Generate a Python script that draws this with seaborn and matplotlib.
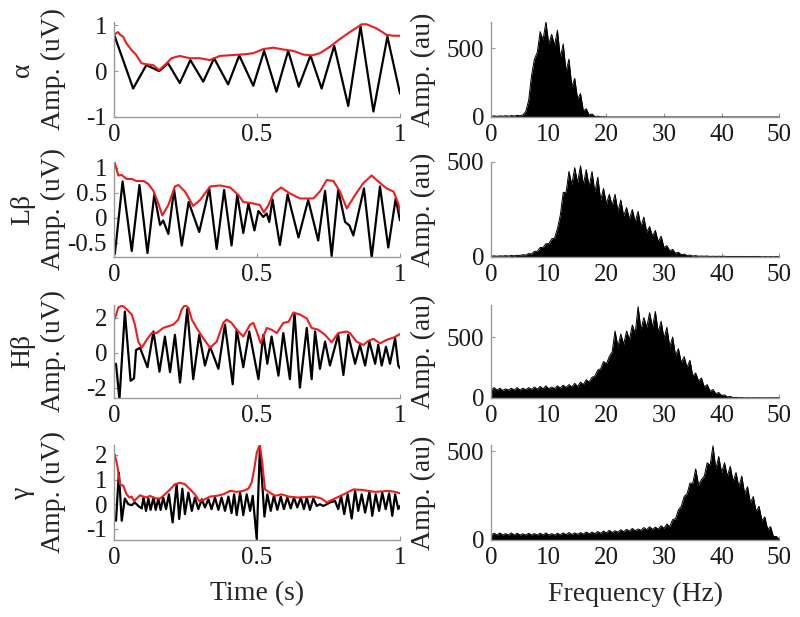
import numpy as np
import pandas as pd
import matplotlib
matplotlib.use("Agg")
import matplotlib.pyplot as plt
import seaborn as sns

# ---------------- time traces (s, uV) ----------------
alpha_t = [0.0, 0.067, 0.113, 0.158, 0.189, 0.230, 0.267, 0.312, 0.350, 0.399, 0.438, 0.487,
           0.525, 0.568, 0.609, 0.646, 0.687, 0.726, 0.770, 0.819, 0.862, 0.907, 0.956, 1.0]
alpha_sig = [0.80, -0.38, 0.13, 0.0, 0.17, -0.26, 0.24, -0.23, 0.28, -0.29, 0.34, -0.32,
             0.44, -0.45, 0.44, -0.34, 0.34, -0.38, 0.55, -0.76, 0.97, -0.88, 0.75, -0.49]
alpha_env_t = [0.002, 0.014, 0.022, 0.032, 0.043, 0.061, 0.078, 0.096, 0.113, 0.137, 0.158, 0.177,
               0.201, 0.230, 0.265, 0.300, 0.335, 0.370, 0.417, 0.463, 0.487, 0.522, 0.557, 0.592,
               0.627, 0.662, 0.691, 0.720, 0.755, 0.790, 0.825, 0.866, 0.883, 0.918, 0.953, 0.977, 1.0]
alpha_env = [0.80, 0.85, 0.79, 0.75, 0.61, 0.46, 0.35, 0.17, 0.15, 0.13, 0.02, 0.13,
             0.28, 0.33, 0.28, 0.28, 0.24, 0.33, 0.35, 0.37, 0.39, 0.48, 0.51, 0.47,
             0.44, 0.36, 0.34, 0.39, 0.53, 0.70, 0.85, 1.02, 1.02, 0.93, 0.79, 0.77, 0.77]

lbeta_t = [0.003, 0.030, 0.062, 0.089, 0.117, 0.141, 0.161, 0.172, 0.190, 0.210, 0.237, 0.261,
           0.298, 0.333, 0.359, 0.385, 0.411, 0.431, 0.452, 0.470, 0.491, 0.505, 0.522, 0.534,
           0.543, 0.554, 0.580, 0.607, 0.645, 0.679, 0.714, 0.738, 0.761, 0.784, 0.808, 0.823,
           0.837, 0.874, 0.901, 0.930, 0.959, 0.985, 1.0]
lbeta_sig = [-0.72, 0.73, -0.66, 0.66, -0.70, 0.47, -0.14, -0.05, -0.32, 0.57, -0.55, 0.32,
             -0.28, 0.59, -0.62, 0.56, -0.55, 0.46, -0.30, 0.29, -0.25, 0.14, 0.02, 0.09,
             -0.08, 0.37, -0.54, 0.47, -0.39, 0.36, -0.45, 0.54, -0.76, 0.56, -0.08, -0.15,
             -0.35, 0.59, -0.79, 0.63, -0.59, 0.39, -0.05]
lbeta_env_t = [0.003, 0.015, 0.027, 0.044, 0.062, 0.079, 0.103, 0.120, 0.138, 0.155, 0.169, 0.190,
               0.213, 0.225, 0.248, 0.277, 0.301, 0.336, 0.371, 0.406, 0.435, 0.452, 0.487, 0.510,
               0.524, 0.540, 0.557, 0.584, 0.615, 0.650, 0.697, 0.720, 0.744, 0.767, 0.790, 0.814,
               0.843, 0.872, 0.901, 0.924, 0.953, 0.977, 0.994, 1.0]
lbeta_env = [1.10, 0.85, 0.86, 0.78, 0.78, 0.74, 0.74, 0.68, 0.54, 0.29, 0.05, 0.26,
             0.63, 0.66, 0.53, 0.24, 0.36, 0.63, 0.65, 0.61, 0.46, 0.32, 0.29, 0.26,
             0.11, 0.26, 0.49, 0.61, 0.49, 0.39, 0.39, 0.53, 0.76, 0.74, 0.53, 0.19,
             0.46, 0.70, 0.85, 0.73, 0.59, 0.53, 0.29, 0.12]

hbeta_t = [0.007, 0.019, 0.038, 0.058, 0.070, 0.077, 0.091, 0.117, 0.138, 0.159, 0.178, 0.196,
           0.213, 0.231, 0.256, 0.277, 0.298, 0.318, 0.336, 0.365, 0.388, 0.415, 0.429, 0.452,
           0.473, 0.505, 0.522, 0.536, 0.551, 0.575, 0.592, 0.615, 0.631, 0.650, 0.674, 0.691,
           0.703, 0.720, 0.738, 0.755, 0.784, 0.802, 0.819, 0.843, 0.860, 0.878, 0.893, 0.913,
           0.924, 0.936, 0.951, 0.965, 0.983, 0.994, 1.0]
hbeta_sig = [-0.62, -2.66, 2.35, -1.59, -1.45, 0.16, 0.29, -0.82, 1.22, -1.07, 0.93, -1.10,
             1.03, -1.69, 2.49, -1.50, 1.03, -0.72, 0.35, -0.91, 1.61, -1.79, 1.32, -0.82,
             1.22, -1.50, 1.03, -0.62, 0.93, -1.30, 1.13, -1.50, 2.29, -1.98, 1.42, -1.50,
             1.22, -0.91, 0.64, -0.72, 1.03, -1.26, 1.03, -0.62, 0.45, -0.72, 0.64, -0.62,
             0.45, -0.72, 0.35, -0.62, 0.83, -0.72, -0.87]
hbeta_env_t = [0.003, 0.015, 0.027, 0.038, 0.050, 0.062, 0.073, 0.085, 0.097, 0.114, 0.132, 0.149,
               0.172, 0.207, 0.225, 0.237, 0.248, 0.260, 0.272, 0.289, 0.312, 0.336, 0.359, 0.382,
               0.394, 0.411, 0.429, 0.452, 0.476, 0.487, 0.499, 0.513, 0.534, 0.551, 0.569, 0.592,
               0.610, 0.627, 0.650, 0.674, 0.691, 0.714, 0.738, 0.761, 0.784, 0.814, 0.825, 0.848,
               0.872, 0.889, 0.907, 0.930, 0.953, 0.977, 1.0]
hbeta_env = [1.96, 2.58, 2.70, 2.58, 2.39, 2.19, 1.61, 0.64, 0.29, 0.74, 1.13, 1.13,
             1.42, 1.61, 1.90, 2.49, 2.72, 2.58, 1.90, 1.42, 0.83, 0.29, 0.64, 1.71,
             1.90, 1.71, 1.32, 0.93, 1.61, 1.71, 1.22, 0.54, 1.42, 1.32, 1.13, 1.71,
             1.77, 2.29, 2.19, 1.96, 1.42, 1.32, 1.03, 0.60, 1.13, 1.22, 1.13, 0.64,
             0.45, 0.68, 0.80, 0.54, 0.74, 0.87, 1.07]

gamma_t = [0.007, 0.017, 0.027, 0.038, 0.050, 0.062, 0.073, 0.085, 0.097, 0.103,
           0.112, 0.120, 0.128, 0.138, 0.146, 0.155, 0.163, 0.172, 0.182, 0.192,
           0.205, 0.219, 0.228, 0.239, 0.248, 0.260, 0.272, 0.283, 0.295, 0.307,
           0.318, 0.330, 0.341, 0.353, 0.365, 0.376, 0.388, 0.400, 0.411, 0.420,
           0.429, 0.441, 0.452, 0.464, 0.476, 0.485, 0.499, 0.510, 0.526, 0.536,
           0.548, 0.559, 0.571, 0.583, 0.594, 0.606, 0.618, 0.629, 0.641, 0.653,
           0.664, 0.674, 0.685, 0.697, 0.709, 0.720, 0.732, 0.744, 0.755, 0.773,
           0.784, 0.794, 0.805, 0.817, 0.831, 0.843, 0.854, 0.866, 0.878, 0.893,
           0.903, 0.915, 0.927, 0.938, 0.950, 0.962, 0.973, 0.983, 0.994, 1.0]
gamma_sig = [-0.67, 1.28, -0.67, 0.23, 0.00, -0.04, 0.07, -0.07, -0.17, 0.27,
             -0.27, 0.23, -0.23, 0.27, -0.23, 0.23, -0.23, 0.27, -0.20, 0.40,
             -0.74, 0.81, -0.60, 0.63, -0.40, 0.47, -0.27, 0.27, -0.20, 0.20,
             -0.13, 0.20, -0.20, 0.27, -0.23, 0.27, -0.27, 0.31, -0.36, 0.40,
             -0.44, 0.47, -0.44, 0.40, -0.27, 0.34, -1.41, 2.28, -0.50, 0.40,
             -0.27, 0.34, -0.23, 0.31, -0.20, 0.27, -0.17, 0.27, -0.13, 0.27,
             -0.20, 0.27, -0.23, 0.23, -0.07, 0.00, -0.07, 0.00, 0.07, 0.13,
             -0.20, 0.34, -0.40, 0.40, -0.58, 0.54, -0.27, 0.40, -0.34, 0.50,
             -0.47, 0.40, -0.27, 0.47, -0.20, 0.44, -0.47, 0.40, -0.20, -0.07]
gamma_env_t = [0.003, 0.012, 0.021, 0.033, 0.044, 0.054, 0.062, 0.070, 0.079, 0.091,
               0.103, 0.114, 0.126, 0.138, 0.149, 0.161, 0.178, 0.196, 0.213, 0.231,
               0.248, 0.266, 0.283, 0.298, 0.312, 0.336, 0.359, 0.382, 0.406, 0.429,
               0.452, 0.470, 0.481, 0.490, 0.499, 0.510, 0.517, 0.528, 0.545, 0.563,
               0.586, 0.610, 0.645, 0.697, 0.726, 0.744, 0.761, 0.796, 0.837, 0.866,
               0.913, 0.960, 0.983, 1.0]
gamma_env = [2.01, 1.54, 0.81, 0.74, 0.40, 0.27, 0.31, 0.13, 0.23, 0.36,
             0.31, 0.27, 0.34, 0.27, 0.23, 0.23, 0.40, 0.60, 0.81, 0.87,
             0.81, 0.60, 0.40, 0.13, 0.17, 0.31, 0.34, 0.40, 0.54, 0.50,
             0.54, 0.63, 0.87, 1.41, 2.08, 2.42, 1.81, 0.60, 0.47, 0.34,
             0.40, 0.31, 0.27, 0.31, 0.23, 0.07, 0.17, 0.36, 0.60, 0.58,
             0.50, 0.54, 0.50, 0.44]

# ---------------- spectra (au): dense level at whole Hz, spike tops at half Hz ----------------
freq_body = np.arange(0, 51)
freq_peak = np.arange(0.5, 50, 1.0)

alpha_body = [5, 5, 6, 6, 7, 9, 40, 300, 470, 560, 530, 520, 430, 330, 220, 130, 45, 15, 4, 1,
              0, 0, 0, 0, 0, 0, 0, 0, 0, 0, 0, 0, 0, 0, 0, 0, 0, 0, 0, 0,
              0, 0, 0, 0, 0, 0, 0, 0, 0, 0, 0]
alpha_peak = [8, 8, 9, 10, 12, 15, 120, 420, 620, 690, 600, 630, 530, 420, 280, 170, 60, 22, 6, 2,
              0, 0, 0, 0, 0, 0, 0, 0, 0, 0, 0, 0, 0, 0, 0, 0, 0, 0, 0, 0,
              0, 0, 0, 0, 0, 0, 0, 0, 0, 0]

lbeta_body = [4, 4, 5, 5, 6, 8, 10, 16, 30, 50, 70, 100, 220, 340, 380, 390, 380, 370, 340, 300,
              280, 270, 240, 215, 200, 185, 160, 130, 110, 80, 50, 32, 20, 12, 8, 5, 4, 4, 3, 3,
              3, 2, 2, 2, 2, 2, 2, 1, 1, 1, 1]
lbeta_peak = [6, 6, 7, 8, 9, 12, 18, 30, 50, 70, 95, 150, 340, 450, 470, 480, 460, 450, 420, 360,
              330, 330, 300, 260, 250, 240, 210, 160, 140, 110, 60, 40, 25, 15, 10, 7, 5, 5, 4, 4,
              4, 3, 3, 3, 3, 3, 3, 2, 2, 2]

hbeta_body = [65, 65, 62, 65, 65, 66, 68, 70, 72, 75, 75, 78, 82, 86, 90, 95, 110, 130, 180, 240,
              280, 380, 420, 440, 480, 530, 560, 580, 580, 540, 490, 420, 350, 290, 250, 180, 140, 90, 55, 35,
              20, 9, 4, 2, 1, 1, 1, 1, 1, 1, 1]
hbeta_peak = [85, 80, 75, 80, 85, 80, 85, 90, 95, 100, 90, 100, 105, 110, 120, 130, 150, 170, 230, 300,
              340, 550, 525, 550, 600, 750, 660, 700, 710, 630, 580, 500, 405, 340, 310, 205, 165, 110, 70, 45,
              25, 12, 5, 3, 2, 2, 2, 2, 2, 2]

gamma_body = [28, 28, 28, 28, 28, 28, 28, 28, 28, 28, 28, 28, 29, 30, 31, 32, 33, 35, 36, 38,
              40, 42, 44, 47, 50, 52, 55, 58, 60, 62, 66, 75, 120, 190, 260, 320, 310, 360, 420, 400,
              380, 360, 330, 300, 260, 210, 160, 110, 60, 20, 5]
gamma_peak = [38, 40, 36, 40, 38, 35, 38, 36, 38, 40, 36, 38, 40, 42, 40, 42, 45, 45, 48, 50,
              55, 52, 58, 60, 65, 62, 70, 75, 72, 80, 90, 115, 170, 245, 320, 400, 340, 435, 530, 470,
              435, 415, 380, 360, 300, 245, 190, 130, 75, 20]

band_names = ["α", "Lβ", "Hβ", "γ"]
traces = [(alpha_t, alpha_sig, alpha_env_t, alpha_env),
          (lbeta_t, lbeta_sig, lbeta_env_t, lbeta_env),
          (hbeta_t, hbeta_sig, hbeta_env_t, hbeta_env),
          (gamma_t, gamma_sig, gamma_env_t, gamma_env)]
spectra = [(alpha_body, alpha_peak), (lbeta_body, lbeta_peak),
           (hbeta_body, hbeta_peak), (gamma_body, gamma_peak)]

time_ylims = [(-1.0, 1.07), (-0.78, 1.12), (-2.57, 2.74), (-1.45, 2.4)]
time_yticks = [[-1, 0, 1], [-0.5, 0, 0.5, 1], [-2, 0, 2], [-1, 0, 1, 2]]
spec_ylims = [690, 500, 765, 535]

TICK_FS = 18
LABEL_FS = 20
AXIS_GREY = "#9a9a9a"

sns.set_theme(style="ticks")
plt.rcParams["font.family"] = ["Liberation Serif", "DejaVu Serif"]
plt.rcParams["axes.unicode_minus"] = False
plt.rcParams["text.color"] = "#1a1a1a"


def style_axes(ax):
    sns.despine(ax=ax)
    for side in ("left", "bottom"):
        ax.spines[side].set_color(AXIS_GREY)
        ax.spines[side].set_linewidth(1.0)
    ax.tick_params(direction="in", length=3, width=0.8, color=AXIS_GREY,
                   labelsize=TICK_FS, labelcolor="#1a1a1a", pad=5)


fig = plt.figure(figsize=(8, 6.17), dpi=100)
row_pos = [(0.8104, 0.154), (0.5835, 0.154), (0.355, 0.151), (0.1248, 0.154)]

for i in range(4):
    bottom, height = row_pos[i]

    # ---- left: time trace with red envelope ----
    ax = fig.add_axes([0.1425, bottom, 0.3575, height])
    t, sig, env_t, env = traces[i]
    sns.lineplot(x=t, y=sig, color="black", lw=1.6, estimator=None, ax=ax,
                 solid_joinstyle="round")
    sns.lineplot(x=env_t, y=env, color="#ee1c1c", lw=1.5, estimator=None, ax=ax)
    ax.set_xlim(0, 1)
    ax.set_ylim(*time_ylims[i])
    ax.set_xticks([0, 0.5, 1])
    ax.set_xticklabels(["0", "0.5", "1"])
    ax.set_yticks(time_yticks[i])
    ax.set_yticklabels([f"{v:g}" for v in time_yticks[i]])
    style_axes(ax)
    ax.set_ylabel(f"{band_names[i]}\nAmp. (uV)", fontsize=LABEL_FS, linespacing=1.3)
    ax.yaxis.set_label_coords(-0.168, 0.5)
    if i == 3:
        ax.set_xlabel("Time (s)", fontsize=LABEL_FS, labelpad=9)
    else:
        ax.set_xlabel("")

    # ---- right: amplitude spectrum, jagged between dense level and spike tops ----
    ax = fig.add_axes([0.614, bottom, 0.36, height])
    body, peak = spectra[i]
    df = pd.DataFrame({"freq": np.concatenate([freq_body, freq_peak]),
                       "amp": np.concatenate([body, peak])}).sort_values("freq")
    ax.fill_between(df["freq"], 0, df["amp"], color="black", lw=0)
    sns.lineplot(data=df, x="freq", y="amp", color="black", lw=0.7, estimator=None, ax=ax)
    ax.set_xlim(0, 50)
    ax.set_ylim(0, spec_ylims[i])
    ax.set_xticks([0, 10, 20, 30, 40, 50])
    ax.set_yticks([0, 500])
    style_axes(ax)
    ax.set_ylabel("Amp. (au)", fontsize=LABEL_FS)
    ax.yaxis.set_label_coords(-0.19, 0.5)
    if i == 3:
        ax.set_xlabel("Frequency (Hz)", fontsize=LABEL_FS, labelpad=9)
    else:
        ax.set_xlabel("")

fig.savefig("out.png", dpi=100)
